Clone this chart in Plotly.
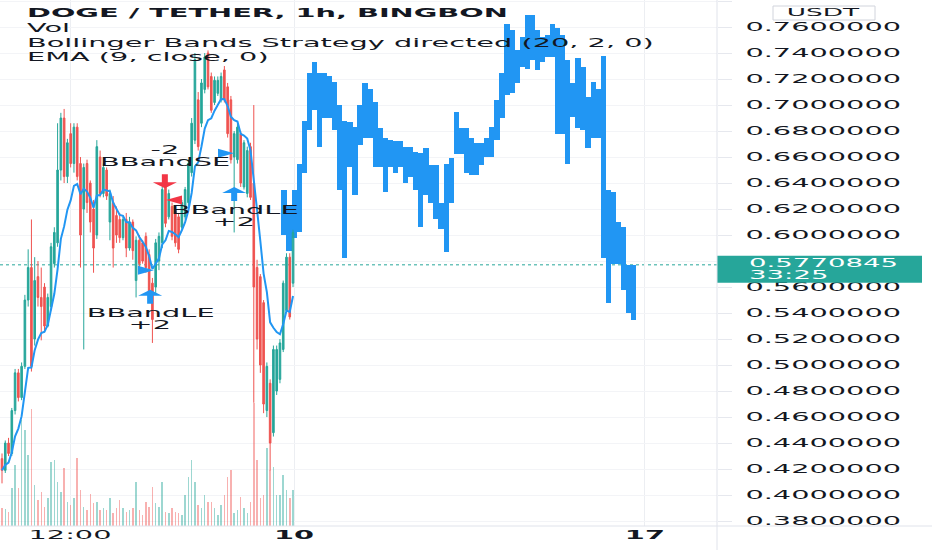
import plotly.graph_objects as go
import pandas as pd

# ---------------- data ----------------
opens = [0.428, 0.419, 0.440, 0.432, 0.465, 0.494, 0.475, 0.499, 0.550, 0.575,
         0.520, 0.568, 0.552, 0.560, 0.530, 0.545, 0.578, 0.594, 0.650, 0.690,
         0.645, 0.678, 0.655, 0.683, 0.655, 0.620, 0.655, 0.640, 0.620, 0.600,
         0.660, 0.632, 0.650, 0.610, 0.625, 0.615, 0.612, 0.598, 0.612, 0.590,
         0.610, 0.565, 0.596, 0.594, 0.599, 0.585, 0.563, 0.560, 0.580, 0.594,
         0.637, 0.614, 0.622, 0.619, 0.614, 0.606, 0.614, 0.625, 0.648, 0.673,
         0.704, 0.686, 0.712, 0.740, 0.722, 0.702, 0.709, 0.704, 0.727, 0.714,
         0.704, 0.660, 0.658, 0.678, 0.637, 0.632, 0.668, 0.640, 0.575, 0.568,
         0.548, 0.465, 0.486, 0.448, 0.480, 0.489, 0.512, 0.542, 0.583, 0.563]
highs = [0.432, 0.442, 0.444, 0.467, 0.497, 0.497, 0.502, 0.554, 0.589, 0.612,
         0.583, 0.580, 0.575, 0.563, 0.555, 0.594, 0.606, 0.686, 0.694, 0.697,
         0.674, 0.686, 0.686, 0.686, 0.660, 0.655, 0.658, 0.642, 0.627, 0.673,
         0.665, 0.655, 0.652, 0.635, 0.630, 0.622, 0.617, 0.614, 0.617, 0.614,
         0.612, 0.599, 0.600, 0.596, 0.602, 0.589, 0.567, 0.597, 0.602, 0.637,
         0.640, 0.635, 0.625, 0.622, 0.617, 0.627, 0.637, 0.658, 0.690, 0.740,
         0.710, 0.720, 0.740, 0.742, 0.725, 0.722, 0.722, 0.725, 0.730, 0.717,
         0.707, 0.680, 0.686, 0.680, 0.673, 0.668, 0.671, 0.700, 0.581, 0.570,
         0.550, 0.502, 0.489, 0.515, 0.515, 0.520, 0.565, 0.586, 0.586, 0.604]
lows = [0.409, 0.417, 0.430, 0.430, 0.462, 0.472, 0.473, 0.497, 0.545, 0.495,
        0.515, 0.545, 0.519, 0.525, 0.529, 0.542, 0.575, 0.591, 0.642, 0.640,
        0.640, 0.652, 0.648, 0.642, 0.575, 0.512, 0.617, 0.602, 0.571, 0.597,
        0.629, 0.629, 0.627, 0.596, 0.575, 0.594, 0.594, 0.596, 0.583, 0.588,
        0.581, 0.552, 0.575, 0.578, 0.571, 0.552, 0.517, 0.555, 0.573, 0.590,
        0.606, 0.612, 0.596, 0.591, 0.586, 0.604, 0.612, 0.622, 0.645, 0.670,
        0.665, 0.683, 0.709, 0.712, 0.694, 0.700, 0.707, 0.702, 0.702, 0.675,
        0.655, 0.602, 0.655, 0.637, 0.635, 0.629, 0.627, 0.471, 0.512, 0.494,
        0.463, 0.460, 0.419, 0.445, 0.477, 0.486, 0.510, 0.540, 0.535, 0.560]
closes = [0.419, 0.440, 0.432, 0.465, 0.494, 0.475, 0.499, 0.550, 0.575, 0.499,
          0.565, 0.552, 0.545, 0.530, 0.552, 0.591, 0.602, 0.650, 0.690, 0.645,
          0.671, 0.655, 0.683, 0.645, 0.600, 0.652, 0.625, 0.610, 0.590, 0.668,
          0.632, 0.652, 0.630, 0.632, 0.590, 0.600, 0.598, 0.612, 0.590, 0.610,
          0.588, 0.596, 0.578, 0.580, 0.575, 0.555, 0.535, 0.594, 0.599, 0.635,
          0.609, 0.632, 0.599, 0.594, 0.589, 0.625, 0.635, 0.655, 0.686, 0.735,
          0.668, 0.717, 0.737, 0.714, 0.696, 0.719, 0.719, 0.722, 0.704, 0.678,
          0.658, 0.678, 0.683, 0.640, 0.671, 0.665, 0.629, 0.560, 0.520, 0.500,
          0.470, 0.499, 0.440, 0.512, 0.512, 0.517, 0.563, 0.583, 0.537, 0.602]
volumes = [53, 50, 43, 113, 183, 113, 318, 288, 213, 350,
           123, 78, 103, 58, 83, 193, 198, 133, 103, 173,
           73, 63, 83, 203, 108, 58, 48, 96, 68, 73,
           48, 53, 48, 83, 38, 53, 78, 53, 43, 48,
           53, 133, 48, 33, 73, 58, 118, 68, 58, 133,
           43, 38, 53, 43, 38, 33, 93, 148, 198, 133,
           63, 53, 93, 73, 73, 53, 33, 63, 93, 148,
           168, 38, 48, 88, 53, 38, 73, 368, 198, 83,
           93, 233, 168, 178, 93, 93, 153, 108, 83, 108]

# blue projected bar pattern (high / low of each bar)
proj_highs = [0.635, 0.622, 0.635, 0.655, 0.688, 0.725, 0.733, 0.725, 0.725, 0.722,
              0.718, 0.700, 0.688, 0.687, 0.683, 0.700, 0.717, 0.712, 0.702, 0.682,
              0.675, 0.673, 0.672, 0.672, 0.668, 0.668, 0.664, 0.663, 0.667, 0.654,
              0.654, 0.625, 0.655, 0.659, 0.695, 0.682, 0.682, 0.675, 0.671, 0.671,
              0.675, 0.683, 0.704, 0.725, 0.762, 0.758, 0.742, 0.752, 0.769, 0.769,
              0.758, 0.752, 0.754, 0.762, 0.759, 0.754, 0.735, 0.717, 0.736, 0.729,
              0.706, 0.718, 0.712, 0.738, 0.635, 0.633, 0.610, 0.606, 0.577, 0.577]
proj_lows = [0.600, 0.588, 0.598, 0.602, 0.648, 0.681, 0.696, 0.668, 0.690, 0.690,
             0.681, 0.635, 0.582, 0.652, 0.631, 0.669, 0.675, 0.675, 0.652, 0.652,
             0.633, 0.652, 0.648, 0.652, 0.640, 0.645, 0.635, 0.606, 0.631, 0.625,
             0.612, 0.605, 0.587, 0.625, 0.662, 0.662, 0.648, 0.646, 0.646, 0.654,
             0.660, 0.660, 0.673, 0.690, 0.708, 0.709, 0.717, 0.729, 0.728, 0.735,
             0.727, 0.733, 0.737, 0.737, 0.678, 0.678, 0.655, 0.691, 0.682, 0.681,
             0.667, 0.675, 0.675, 0.582, 0.548, 0.578, 0.578, 0.558, 0.540, 0.535]

price_ticks = [0.38, 0.40, 0.42, 0.44, 0.46, 0.48, 0.50, 0.52, 0.54, 0.56, 0.58,
               0.60, 0.62, 0.64, 0.66, 0.68, 0.70, 0.72, 0.74, 0.76, 0.78]
time_tick_pos = [20.8, 89.3, 196.6]
time_tick_text = ["12:00", "<b>10</b>", "<b>17</b>"]

legend_title = "DOGE / TETHER, 1h, BINGBON"
legend_lines = ["Vol", "Bollinger Bands Strategy directed (20, 2, 0)", "EMA (9, close, 0)"]

last_price = 0.5770845
last_price_text = "0.5770845"
countdown_text = "33:25"
currency_text = "USDT"

signal_idx = [45.3, 49.8, 71.0]
signal_price = [0.558, 0.636, 0.637]
signal_name = ["BBandLE", "BBandSE", "BBandLE"]
signal_qty = ["+2", "-2", "+2"]
signal_dir = [1, -1, 1]
entry_idx = [44.0, 52.6, 68.5]
entry_price = [0.573, 0.627, 0.663]

# ---------------- styling ----------------
UP = "#26a69a"
DOWN = "#ef5350"
BLUE = "#2196f3"
SHORT_RED = "#f23645"
TXT = "#131722"
FONT = "DejaVu Sans"
W, H = 932, 550
ML, MR, MT, MB = 0, 215, 0, 24
PW, PH = W - ML - MR, H - MT - MB
TEXT_STRETCH = 2.4

px_per_bar = 3.27
x0 = -2 / px_per_bar
x1 = x0 + PW / px_per_bar
proj_start, proj_step = 86.24, 1.55

idx = list(range(len(closes)))
proj_x = [proj_start + proj_step * k for k in range(len(proj_highs))]
ema = pd.Series(closes).ewm(span=9, adjust=False).mean()
vol_colors = ["rgba(38,166,154,0.45)" if c >= o else "rgba(239,83,80,0.45)"
              for o, c in zip(opens, closes)]
# the price label box hides the tick label right under it
price_ticktext = ["" if abs(v - last_price) < 0.01 else "%.7f" % v for v in price_ticks]

fig = go.Figure()
fig.add_trace(go.Bar(x=idx, y=volumes, yaxis="y2", width=0.45,
                     marker=dict(color=vol_colors, line=dict(width=0)), hoverinfo="skip"))
fig.add_trace(go.Bar(x=proj_x, y=[h - l for h, l in zip(proj_highs, proj_lows)],
                     base=proj_lows, width=proj_step * 1.04,
                     marker=dict(color=BLUE, line=dict(width=0)), hoverinfo="skip"))
fig.add_trace(go.Candlestick(x=idx, open=opens, high=highs, low=lows, close=closes,
                             increasing=dict(line=dict(color=UP, width=1), fillcolor=UP),
                             decreasing=dict(line=dict(color=DOWN, width=1), fillcolor=DOWN),
                             whiskerwidth=0, hoverinfo="skip"))
fig.add_trace(go.Scatter(x=idx, y=ema, mode="lines",
                         line=dict(color=BLUE, width=2), hoverinfo="skip"))

annotations = []
shapes = []
# legend lines
annotations.append(dict(text="<b>%s</b>" % legend_title, xref="paper", yref="paper",
                        x=25 / PW, y=1 - 13 / PH, xanchor="left", yanchor="middle", align="left",
                        showarrow=False, font=dict(family=FONT, size=12, color=TXT)))
for k, line in enumerate(legend_lines):
    annotations.append(dict(text=line, xref="paper", yref="paper",
                            x=25 / PW, y=1 - (28 + 14.5 * k) / PH, xanchor="left",
                            yanchor="middle", align="left", showarrow=False,
                            font=dict(family=FONT, size=12, color=TXT)))

# strategy signals: stretched arrows, entry triangles and labels
ARROW_UP = "M0,0 L12,-6 L3,-6 L3,-14 L-3,-14 L-3,-6 L-12,-6 Z"
ARROW_DOWN = "M0,0 L12,6 L3,6 L3,14 L-3,14 L-3,6 L-12,6 Z"
TRI_RIGHT = "M8,0 L-8,4.5 L-8,-4.5 Z"
TRI_LEFT = "M-8,0 L8,4.5 L8,-4.5 Z"
for sx, sy, name, qty, d, ex, ey in zip(signal_idx, signal_price, signal_name, signal_qty,
                                         signal_dir, entry_idx, entry_price):
    col = BLUE if d > 0 else SHORT_RED
    shapes.append(dict(type="path", xref="x", yref="y", xsizemode="pixel", ysizemode="pixel",
                       xanchor=sx, yanchor=sy, path=ARROW_UP if d > 0 else ARROW_DOWN,
                       fillcolor=col, line=dict(width=0), layer="above"))
    shapes.append(dict(type="path", xref="x", yref="y", xsizemode="pixel", ysizemode="pixel",
                       xanchor=ex, yanchor=ey, path=TRI_RIGHT if d > 0 else TRI_LEFT,
                       fillcolor=col, line=dict(width=0), layer="above"))
    annotations.append(dict(x=sx, y=sy, xref="x", yref="y", text=name, showarrow=False,
                            yshift=-23 if d > 0 else 26, xanchor="center", yanchor="middle",
                            align="center", font=dict(family=FONT, size=12, color=TXT)))
    annotations.append(dict(x=sx, y=sy, xref="x", yref="y", text=qty, showarrow=False,
                            yshift=-35 if d > 0 else 38, xanchor="center", yanchor="middle",
                            align="center", font=dict(family=FONT, size=12, color=TXT)))

# last price label
annotations.append(dict(text=last_price_text, xref="paper", yref="y", x=1 + 30 / PW,
                        y=last_price, yshift=2, xanchor="left", yanchor="middle", align="left",
                        showarrow=False, font=dict(family=FONT, size=11.5, color="white")))
annotations.append(dict(text=countdown_text, xref="paper", yref="y", x=1 + 30 / PW,
                        y=last_price, yshift=-10.5, xanchor="left", yanchor="middle", align="left",
                        showarrow=False, font=dict(family=FONT, size=11.5, color="white")))
annotations.append(dict(text=currency_text, xref="paper", yref="paper", x=1 + 107 / PW,
                        y=1 - 12.5 / PH, xanchor="center", yanchor="middle", align="center",
                        showarrow=False, font=dict(family=FONT, size=11, color=TXT)))

shapes += [
    dict(type="line", xref="paper", yref="y", x0=0, x1=1, y0=last_price, y1=last_price,
         line=dict(color=UP, width=1, dash="dot"), layer="below"),
    dict(type="rect", xref="paper", yref="y", ysizemode="pixel", yanchor=last_price,
         x0=1, x1=1 + 205 / PW, y0=-18, y1=9, line=dict(width=0), fillcolor=UP, layer="above"),
    dict(type="rect", xref="paper", yref="paper", x0=1 + 56 / PW, x1=1 + 158 / PW,
         y0=1 - 20 / PH, y1=1 - 6 / PH, line=dict(color="#d1d4dc", width=1),
         fillcolor="white", layer="above"),
    dict(type="line", xref="paper", yref="paper", x0=0, x1=W / PW, y0=0, y1=0,
         line=dict(color="#e0e3eb", width=1), layer="above"),
    dict(type="line", xref="paper", yref="paper", x0=1, x1=1, y0=-MB / PH, y1=1,
         line=dict(color="#e0e3eb", width=1), layer="above"),
]

fig.update_layout(
    width=W, height=H, autosize=False,
    margin=dict(l=ML, r=MR, t=MT, b=MB, pad=0),
    paper_bgcolor="white", plot_bgcolor="white",
    showlegend=False, barmode="overlay", bargap=0,
    font=dict(family=FONT, color=TXT),
    annotations=annotations, shapes=shapes,
    xaxis=dict(range=[x0, x1], tickvals=time_tick_pos, ticktext=time_tick_text,
               showgrid=True, gridcolor="#eceef2", gridwidth=1, zeroline=False,
               showline=False, ticks="", rangeslider=dict(visible=False),
               tickfont=dict(family=FONT, size=12, color=TXT), automargin=False,
               fixedrange=True),
    yaxis=dict(side="right", range=[0.3762, 0.7808], tickvals=price_ticks,
               ticktext=price_ticktext,
               showgrid=True, gridcolor="#f3f4f7", zeroline=False, showline=False,
               ticks="outside", ticklen=14, tickcolor="#e6e8ee", ticklabelstandoff=11,
               tickfont=dict(family=FONT, size=12, color=TXT), automargin=False,
               fixedrange=True),
    yaxis2=dict(overlaying="y", range=[0, 1575], visible=False, fixedrange=True),
)

post_js = """
document.body.style.margin = '0';
document.body.style.overflow = 'hidden';
var gd = document.getElementById('{plot_id}');
var S = %s;
var nodes = gd.querySelectorAll('.main-svg text');
for (var i = 0; i < nodes.length; i++) {
  var t = nodes[i];
  if (!t.textContent || !t.textContent.trim()) continue;
  var bb = t.getBBox();
  var a = t.getAttribute('text-anchor') || 'start';
  var ax = bb.x;
  if (a === 'middle') ax = bb.x + bb.width / 2;
  else if (a === 'end') ax = bb.x + bb.width;
  var tr = t.getAttribute('transform') || '';
  t.setAttribute('transform', tr + ' translate(' + ax + ',0) scale(' + S + ',1) translate(' + (-ax) + ',0)');
}
""" % TEXT_STRETCH

fig.write_html("out.html", config={"displayModeBar": False, "responsive": False},
               post_script=post_js)
